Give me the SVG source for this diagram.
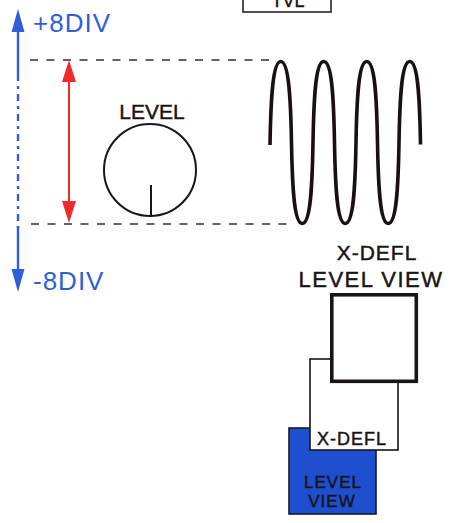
<svg xmlns="http://www.w3.org/2000/svg" width="450" height="523" viewBox="0 0 450 523">
<defs>
<style>
.t{font-family:"Liberation Sans",Arial,sans-serif;fill:#1a1414;stroke:#1a1414;stroke-width:0.45;text-anchor:middle}
.b{font-family:"Liberation Sans",Arial,sans-serif;fill:#2f5fd8;font-size:26px}
.dash{stroke:#3a2c2c;stroke-width:1.6;stroke-dasharray:8 8.5;fill:none}
.blue{stroke:#2f5fd8;stroke-width:2.4;fill:none}
.red{stroke:#ee2b2b;stroke-width:2;fill:none}
</style>
</defs>
<rect width="450" height="523" fill="#ffffff"/>

<g id="connectors">
<line class="dash" x1="30" y1="60" x2="270" y2="60"/>
<line class="dash" x1="31" y1="224" x2="292" y2="224"/>
<path class="blue" d="M18,30 V74" />
<path class="blue" d="M18,74 V228" stroke-dasharray="7 5 3 5"/>
<path class="blue" d="M18,226 V272"/>
<path d="M18,9 L24.5,32 L11.5,32 Z" fill="#2f5fd8"/>
<path d="M18,292 L24.5,269 L11.5,269 Z" fill="#2f5fd8"/>
<line class="red" x1="69" y1="80" x2="69" y2="202"/>
<path d="M69,60 L76,82 L62,82 Z" fill="#ee2b2b"/>
<path d="M69,223 L76,201 L62,201 Z" fill="#ee2b2b"/>
</g>

<g id="scale-labels">
<text class="b" x="33" y="32" letter-spacing="1">+8DIV</text>
<text class="b" x="33" y="290" letter-spacing="1">-8DIV</text>
</g>

<g id="tvl-box">
<rect x="243" y="-10" width="88" height="22" fill="#fff" stroke="#2a2222" stroke-width="1.6"/>
<text class="t" x="288" y="7" font-size="18">TVL</text>
</g>

<g id="level-knob">
<text class="t" x="152" y="119" font-size="21">LEVEL</text>
<circle cx="150" cy="170" r="46" fill="none" stroke="#1a1414" stroke-width="2"/>
<line x1="151" y1="185" x2="151" y2="216" stroke="#1a1414" stroke-width="2"/>
</g>

<g id="waveform">
<path fill="none" stroke="#1a1010" stroke-width="3.6" d="M270,145
c0.8,-45 2.5,-83.5 10.75,-83.5 c8.25,0 9.95,38.5 10.75,81
c0.8,45 2.5,81 10.75,81 c8.25,0 9.95,-36 10.75,-81
c0.8,-45 2.5,-81 10.75,-81 c8.25,0 9.95,36 10.75,81
c0.8,45 2.5,81 10.75,81 c8.25,0 9.95,-36 10.75,-81
c0.8,-45 2.5,-81 10.75,-81 c8.25,0 9.95,36 10.75,81
c0.8,45 2.5,81 10.75,81 c8.25,0 9.95,-36 10.75,-81
c0.8,-45 2.5,-81 10.75,-81 c8.25,0 9.95,36 10.75,83"/>
</g>

<g id="xdefl-title">
<text class="t" x="377" y="260" font-size="21" letter-spacing="1">X-DEFL</text>
<text class="t" x="371" y="287" font-size="22" letter-spacing="1.5">LEVEL VIEW</text>
</g>

<g id="level-view-box">
<rect x="289" y="428" width="87" height="86" fill="#1d4fcf" stroke="#1a1a2a" stroke-width="1.6"/>
<text class="t" x="333" y="488" font-size="17" letter-spacing="1">LEVEL</text>
<text class="t" x="332" y="507" font-size="17" letter-spacing="1">VIEW</text>
</g>

<g id="xdefl-box">
<rect x="310" y="359" width="88" height="91" fill="#ffffff" stroke="#1a1414" stroke-width="1.6"/>
<text class="t" x="352" y="445" font-size="18" letter-spacing="1">X-DEFL</text>
</g>

<g id="main-box">
<rect x="331.8" y="294.8" width="84.5" height="86.5" fill="#ffffff" stroke="#1a1414" stroke-width="3.6"/>
</g>
</svg>
